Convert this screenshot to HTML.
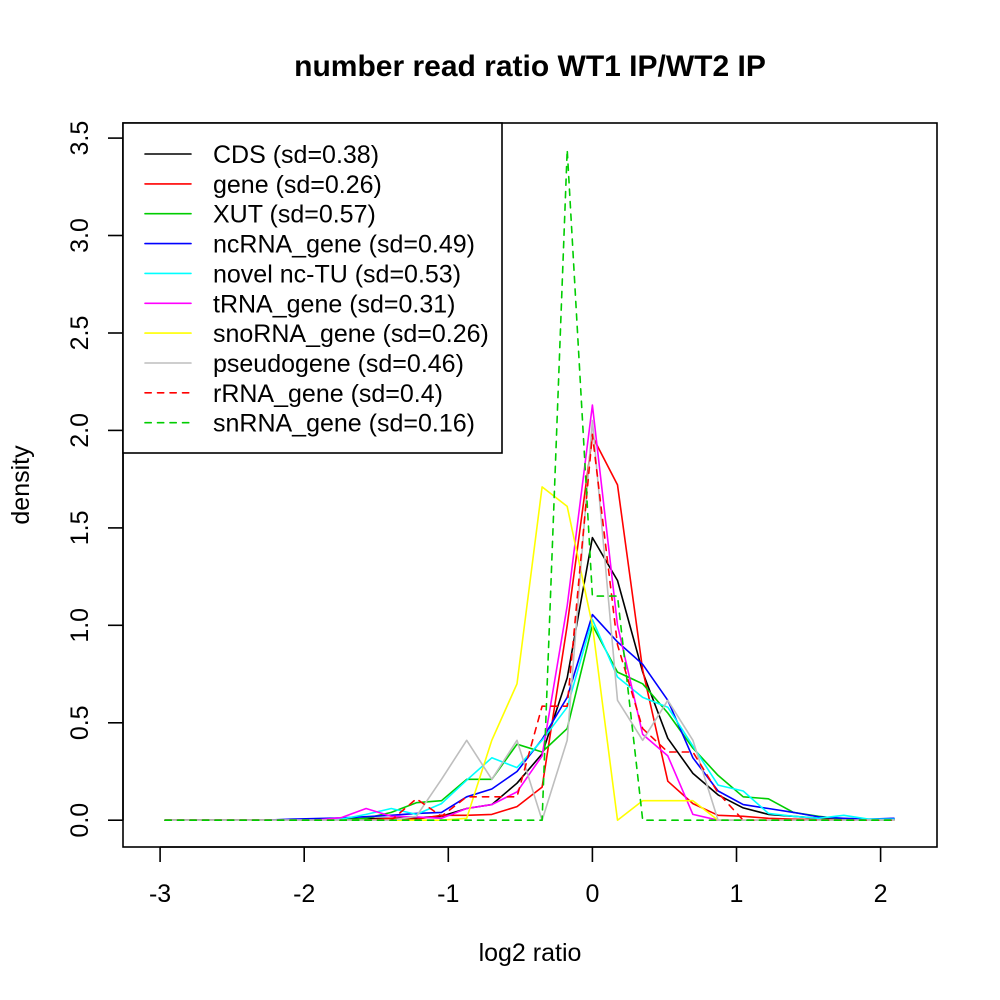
<!DOCTYPE html>
<html>
<head>
<meta charset="utf-8">
<style>
  html, body { margin: 0; padding: 0; background: #ffffff; }
  svg { display: block; }
  text { font-family: "Liberation Sans", Arial, sans-serif; fill: #000; }
</style>
</head>
<body>
<svg width="1000" height="1000" viewBox="0 0 1000 1000" xmlns="http://www.w3.org/2000/svg">
  <rect x="0" y="0" width="1000" height="1000" fill="#ffffff"/>

  <!-- Title -->
  <text x="530" y="76" font-size="30" font-weight="bold" text-anchor="middle">number read ratio WT1 IP/WT2 IP</text>

  <!-- Data series -->
  <g fill="none" stroke-width="1.6" stroke-linejoin="round" stroke-linecap="round">
    <!-- CDS black -->
    <polyline stroke="#000000" points="165.0,820.2 190.1,820.2 215.3,820.2 240.4,820.2 265.6,820.2 290.7,819.8 315.8,819.6 341.0,819.2 366.1,818.6 391.3,818.3 416.4,817.7 441.5,816.3 466.7,808.5 491.8,804.6 517.0,783.2 542.1,753.9 567.2,677.9 592.4,537.6 617.5,580.5 642.7,672.1 667.8,738.3 692.9,773.4 718.1,794.9 743.2,807.9 768.4,814.4 793.5,816.3 818.6,818.3 843.8,819.2 868.9,819.6 894.0,819.8"/>
    <!-- gene red -->
    <polyline stroke="#FF0000" points="165.0,820.2 190.1,820.2 215.3,820.2 240.4,820.2 265.6,820.2 290.7,820.2 315.8,820.2 341.0,820.2 366.1,820.2 391.3,818.3 416.4,819.2 441.5,815.3 466.7,815.3 491.8,814.4 517.0,806.6 542.1,787.1 567.2,625.3 592.4,436.2 617.5,484.9 642.7,670.1 667.8,781.2 692.9,803.6 718.1,815.3 743.2,816.3 768.4,818.3 793.5,819.2 818.6,819.6 843.8,819.6 868.9,819.6 894.0,819.6"/>
    <!-- XUT green3 -->
    <polyline stroke="#00CD00" points="165.0,820.2 190.1,820.2 215.3,820.2 240.4,820.2 265.6,820.2 290.7,820.2 315.8,820.2 341.0,820.2 366.1,818.3 391.3,812.4 416.4,802.7 441.5,800.7 466.7,779.3 491.8,779.3 517.0,744.2 542.1,752.0 567.2,728.6 592.4,625.3 617.5,672.1 642.7,683.8 667.8,713.0 692.9,748.1 718.1,775.4 743.2,796.8 768.4,798.8 793.5,812.4 818.6,816.3 843.8,819.2 868.9,819.6 894.0,819.6"/>
    <!-- ncRNA blue -->
    <polyline stroke="#0000FF" points="165.0,820.2 190.1,820.2 215.3,820.2 240.4,820.2 265.6,820.2 290.7,819.2 315.8,818.6 341.0,817.9 366.1,816.7 391.3,815.3 416.4,813.4 441.5,812.4 466.7,796.8 491.8,789.0 517.0,771.5 542.1,739.3 567.2,697.4 592.4,614.6 617.5,641.9 642.7,664.3 667.8,700.3 692.9,757.8 718.1,791.0 743.2,804.6 768.4,808.5 793.5,812.4 818.6,816.9 843.8,818.3 868.9,819.2 894.0,818.3"/>
    <!-- novel cyan -->
    <polyline stroke="#00FFFF" points="165.0,820.2 190.1,820.2 215.3,820.2 240.4,820.2 265.6,820.2 290.7,820.2 315.8,820.2 341.0,819.2 366.1,814.4 391.3,808.5 416.4,814.4 441.5,803.6 466.7,780.2 491.8,757.8 517.0,767.6 542.1,740.3 567.2,707.2 592.4,619.5 617.5,677.0 642.7,697.4 667.8,707.2 692.9,746.1 718.1,785.1 743.2,791.0 768.4,813.4 793.5,816.3 818.6,818.3 843.8,815.3 868.9,819.2 894.0,819.2"/>
    <!-- tRNA magenta -->
    <polyline stroke="#FF00FF" points="165.0,820.2 190.1,820.2 215.3,820.2 240.4,820.2 265.6,820.2 290.7,820.2 315.8,820.2 341.0,817.7 366.1,808.5 391.3,816.3 416.4,816.9 441.5,818.3 466.7,808.5 491.8,804.6 517.0,791.9 542.1,755.9 567.2,605.8 592.4,405.1 617.5,625.3 642.7,734.4 667.8,755.9 692.9,814.4 718.1,820.2 743.2,820.2 768.4,820.2 793.5,820.2 818.6,820.2 843.8,820.2 868.9,820.2 894.0,820.2"/>
    <!-- snoRNA yellow -->
    <polyline stroke="#FFFF00" points="165.0,820.2 190.1,820.2 215.3,820.2 240.4,820.2 265.6,820.2 290.7,820.2 315.8,820.2 341.0,820.2 366.1,820.2 391.3,820.2 416.4,820.2 441.5,820.2 466.7,818.3 491.8,740.3 517.0,683.8 542.1,486.9 567.2,506.4 592.4,625.3 617.5,820.2 642.7,800.7 667.8,800.7 692.9,800.7 718.1,820.2 743.2,820.2 768.4,820.2 793.5,820.2 818.6,820.2 843.8,820.2 868.9,820.2 894.0,820.2"/>
    <!-- pseudogene gray -->
    <polyline stroke="#BEBEBE" points="165.0,820.2 190.1,820.2 215.3,820.2 240.4,820.2 265.6,820.2 290.7,820.2 315.8,820.2 341.0,820.2 366.1,820.2 391.3,820.2 416.4,816.3 441.5,779.3 466.7,740.3 491.8,779.3 517.0,740.3 542.1,820.2 567.2,740.3 592.4,420.6 617.5,700.3 642.7,740.3 667.8,700.3 692.9,740.3 718.1,820.2 743.2,820.2 768.4,820.2 793.5,820.2 818.6,820.2 843.8,820.2 868.9,820.2 894.0,820.2"/>
    <!-- rRNA red dashed -->
    <polyline stroke="#FF0000" stroke-dasharray="6.25 6.25" points="165.0,820.2 190.1,820.2 215.3,820.2 240.4,820.2 265.6,820.2 290.7,820.2 315.8,820.2 341.0,820.2 366.1,820.2 391.3,820.2 416.4,798.8 441.5,816.3 466.7,796.8 491.8,796.8 517.0,796.8 542.1,706.2 567.2,706.2 592.4,434.3 617.5,644.8 642.7,728.6 667.8,752.0 692.9,752.0 718.1,792.9 743.2,820.2 768.4,820.2 793.5,820.2 818.6,820.2 843.8,820.2 868.9,820.2 894.0,820.2"/>
    <!-- snRNA green dashed -->
    <polyline stroke="#00CD00" stroke-dasharray="6.25 6.25" points="165.0,820.2 190.1,820.2 215.3,820.2 240.4,820.2 265.6,820.2 290.7,820.2 315.8,820.2 341.0,820.2 366.1,820.2 391.3,820.2 416.4,820.2 441.5,820.2 466.7,820.2 491.8,820.2 517.0,820.2 542.1,820.2 567.2,149.7 592.4,596.1 617.5,596.1 642.7,820.2 667.8,820.2 692.9,820.2 718.1,820.2 743.2,820.2 768.4,820.2 793.5,820.2 818.6,820.2 843.8,820.2 868.9,820.2 894.0,820.2"/>
  </g>

  <!-- Plot box -->
  <rect x="123" y="123" width="814" height="724" fill="none" stroke="#000" stroke-width="1.6"/>

  <!-- X axis -->
  <g stroke="#000" stroke-width="1.6" fill="none">
    <line x1="160.1" y1="847" x2="880.6" y2="847"/>
    <line x1="160.1" y1="847" x2="160.1" y2="862"/>
    <line x1="304.2" y1="847" x2="304.2" y2="862"/>
    <line x1="448.3" y1="847" x2="448.3" y2="862"/>
    <line x1="592.4" y1="847" x2="592.4" y2="862"/>
    <line x1="736.5" y1="847" x2="736.5" y2="862"/>
    <line x1="880.6" y1="847" x2="880.6" y2="862"/>
  </g>
  <g font-size="25" text-anchor="middle">
    <text x="160.1" y="902">-3</text>
    <text x="304.2" y="902">-2</text>
    <text x="448.3" y="902">-1</text>
    <text x="592.4" y="902">0</text>
    <text x="736.5" y="902">1</text>
    <text x="880.6" y="902">2</text>
  </g>

  <!-- Y axis -->
  <g stroke="#000" stroke-width="1.6" fill="none">
    <line x1="123" y1="820.2" x2="123" y2="138.1"/>
    <line x1="108" y1="820.2" x2="123" y2="820.2"/>
    <line x1="108" y1="722.8" x2="123" y2="722.8"/>
    <line x1="108" y1="625.3" x2="123" y2="625.3"/>
    <line x1="108" y1="527.9" x2="123" y2="527.9"/>
    <line x1="108" y1="430.4" x2="123" y2="430.4"/>
    <line x1="108" y1="333.0" x2="123" y2="333.0"/>
    <line x1="108" y1="235.5" x2="123" y2="235.5"/>
    <line x1="108" y1="138.1" x2="123" y2="138.1"/>
  </g>
  <g font-size="25" text-anchor="middle">
    <text transform="translate(88,820.2) rotate(-90)">0.0</text>
    <text transform="translate(88,722.8) rotate(-90)">0.5</text>
    <text transform="translate(88,625.3) rotate(-90)">1.0</text>
    <text transform="translate(88,527.9) rotate(-90)">1.5</text>
    <text transform="translate(88,430.4) rotate(-90)">2.0</text>
    <text transform="translate(88,333.0) rotate(-90)">2.5</text>
    <text transform="translate(88,235.5) rotate(-90)">3.0</text>
    <text transform="translate(88,138.1) rotate(-90)">3.5</text>
  </g>

  <!-- Axis titles -->
  <text x="530" y="961" font-size="25" text-anchor="middle">log2 ratio</text>
  <text transform="translate(29,485) rotate(-90)" font-size="25" text-anchor="middle">density</text>

  <!-- Legend -->
  <rect x="123" y="123" width="379" height="330" fill="#ffffff" stroke="#000" stroke-width="1.6"/>
  <g stroke-width="1.6" stroke-linecap="round">
    <line x1="145" y1="154.0" x2="191" y2="154.0" stroke="#000000"/>
    <line x1="145" y1="183.9" x2="191" y2="183.9" stroke="#FF0000"/>
    <line x1="145" y1="213.7" x2="191" y2="213.7" stroke="#00CD00"/>
    <line x1="145" y1="243.6" x2="191" y2="243.6" stroke="#0000FF"/>
    <line x1="145" y1="273.4" x2="191" y2="273.4" stroke="#00FFFF"/>
    <line x1="145" y1="303.3" x2="191" y2="303.3" stroke="#FF00FF"/>
    <line x1="145" y1="333.1" x2="191" y2="333.1" stroke="#FFFF00"/>
    <line x1="145" y1="363.0" x2="191" y2="363.0" stroke="#BEBEBE"/>
    <line x1="145" y1="392.8" x2="191" y2="392.8" stroke="#FF0000" stroke-dasharray="6.25 6.25"/>
    <line x1="145" y1="422.7" x2="191" y2="422.7" stroke="#00CD00" stroke-dasharray="6.25 6.25"/>
  </g>
  <g font-size="25">
    <text x="213" y="163.0">CDS (sd=0.38)</text>
    <text x="213" y="192.9">gene (sd=0.26)</text>
    <text x="213" y="222.7">XUT (sd=0.57)</text>
    <text x="213" y="252.6">ncRNA_gene (sd=0.49)</text>
    <text x="213" y="282.4">novel nc-TU (sd=0.53)</text>
    <text x="213" y="312.3">tRNA_gene (sd=0.31)</text>
    <text x="213" y="342.1">snoRNA_gene (sd=0.26)</text>
    <text x="213" y="372.0">pseudogene (sd=0.46)</text>
    <text x="213" y="401.8">rRNA_gene (sd=0.4)</text>
    <text x="213" y="431.7">snRNA_gene (sd=0.16)</text>
  </g>
</svg>
</body>
</html>
